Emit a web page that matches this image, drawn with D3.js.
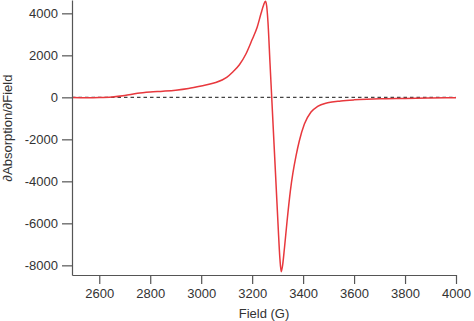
<!DOCTYPE html>
<html>
<head>
<meta charset="utf-8">
<script src="https://cdn.jsdelivr.net/npm/d3@7"></script>
<style>
body { margin: 0; background: #fff; }
svg { display: block; font-family: "Liberation Sans", Arial, Helvetica, sans-serif; }
</style>
</head>
<body>
<script>
// Field values (G) and the derivative signal
var field = [2493, 2550, 2600, 2650, 2700, 2750, 2800, 2850, 2900, 2950,
             3000, 3050, 3100, 3125, 3150, 3175, 3200, 3220, 3235, 3245,
             3252, 3257, 3262, 3270, 3278, 3286, 3294, 3302, 3309, 3314,
             3320, 3327, 3337, 3350, 3360, 3372, 3385, 3405, 3431,
             3457, 3496, 3548, 3600, 3650, 3700, 3800, 3900, 4000]
var signal = [-10, -20, -10, 20, 90, 190, 250, 290, 340, 420,
              540, 680, 950, 1220, 1550, 2050, 2750, 3350, 4000, 4400,
              4580, 4350, 3600, 1650, -300, -2250, -4200, -6150, -7700, -8300,
              -7950, -7150, -5900, -4450, -3600, -2800, -2080, -1270, -700,
              -430, -260, -170, -120, -90, -70, -50, -30, -20]
var xTicks = [2600, 2800, 3000, 3200, 3400, 3600, 3800, 4000]
var yTicks = [-8000, -6000, -4000, -2000, 0, 2000, 4000]

var w = 474
var h = 321
var margin = {top: 0, right: 18, bottom: 46, left: 72}

var data = field.map(function (f, i) { return {x: f, y: signal[i]} })

var xScale = d3.scaleLinear()
	.domain([2493, 4000])
	.range([margin.left, w - margin.right])

var yScale = d3.scaleLinear()
	.domain([-8460, 4635])
	.range([h - margin.bottom, margin.top])

var svg = d3.select('body').append('svg')
	.attr('width', w)
	.attr('height', h)

// zero reference line
svg.append('line')
	.attr('x1', xScale(2493))
	.attr('x2', xScale(4000))
	.attr('y1', yScale(0))
	.attr('y2', yScale(0))
	.attr('stroke', '#444')
	.attr('stroke-width', 1.2)
	.attr('stroke-dasharray', '3.5,3')

// spectrum
var line = d3.line()
	.x(function (d) { return xScale(d.x) })
	.y(function (d) { return yScale(d.y) })
	.curve(d3.curveMonotoneX)

svg.append('path')
	.datum(data)
	.attr('d', line)
	.attr('fill', 'none')
	.attr('stroke', '#e8383d')
	.attr('stroke-width', 1.5)

var plain = function (d) { return String(d) }

// axes
svg.append('g')
	.attr('transform', 'translate(0,' + (h - margin.bottom) + ')')
	.call(d3.axisBottom(xScale).tickValues(xTicks).tickFormat(plain)
		.tickSize(9).tickPadding(5).tickSizeOuter(0))

svg.append('g')
	.attr('transform', 'translate(' + margin.left + ',0)')
	.call(d3.axisLeft(yScale).tickValues(yTicks).tickFormat(plain)
		.tickSize(10).tickPadding(4).tickSizeOuter(0))

svg.selectAll('.domain, .tick line')
	.attr('stroke', '#555')
	.attr('stroke-width', 1.2)
svg.selectAll('.tick text')
	.attr('fill', '#333')
	.style('font-size', '13px')
	.style('font-family', '"Liberation Sans", Arial, sans-serif')

// axis titles
svg.append('text')
	.attr('x', (margin.left + w - margin.right) / 2)
	.attr('y', 318)
	.attr('text-anchor', 'middle')
	.attr('fill', '#333')
	.style('font-size', '13px')
	.text('Field (G)')

svg.append('text')
	.attr('transform', 'translate(12,128) rotate(-90)')
	.attr('text-anchor', 'middle')
	.attr('fill', '#333')
	.style('font-size', '13px')
	.text('∂Absorption/∂Field')
</script>
</body>
</html>
